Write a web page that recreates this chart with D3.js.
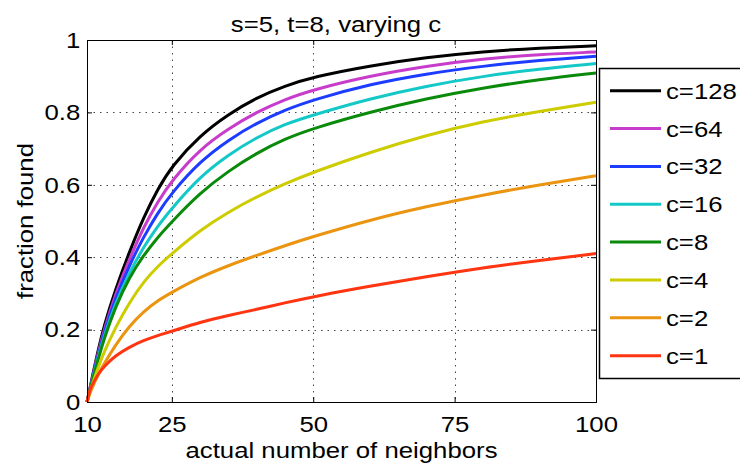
<!DOCTYPE html>
<html lang="en">
<head>
    <meta charset="UTF-8">
    <title>s=5, t=8, varying c</title>
    <script src="https://d3js.org/d3.v7.min.js"></script>
    <style>
        body {
            margin: 0;
            padding: 0;
            background: #fff;
        }
        svg text {
            font-family: "Liberation Sans", Arial, Helvetica, sans-serif;
            fill: #000;
        }
        .grid line {
            stroke: #444;
            stroke-width: 1;
            stroke-dasharray: 1.5, 5;
        }
        .axis path, .axis line {
            stroke: #000;
            stroke-width: 1;
        }
    </style>
</head>
<body>
    <svg id="chart" width="740" height="463"></svg>

    <script>
        const xs = [10, 10.5, 11, 12, 13, 15, 17.5, 20, 22.5, 25, 30, 35, 40, 45, 50, 60, 70, 80, 90, 100];

        // fraction found, one array per c
        const c128 = [0, 0.036, 0.075, 0.145, 0.21, 0.31, 0.415, 0.51, 0.588, 0.652, 0.737, 0.795, 0.841, 0.873, 0.898, 0.929, 0.952, 0.968, 0.978, 0.984];
        const c64  = [0, 0.034, 0.07, 0.138, 0.198, 0.297, 0.395, 0.483, 0.553, 0.612, 0.699, 0.755, 0.801, 0.836, 0.863, 0.901, 0.928, 0.948, 0.96, 0.967];
        const c32  = [0, 0.033, 0.067, 0.132, 0.19, 0.286, 0.378, 0.456, 0.522, 0.578, 0.665, 0.724, 0.771, 0.807, 0.835, 0.878, 0.907, 0.928, 0.944, 0.955];
        const c16  = [0, 0.032, 0.064, 0.126, 0.18, 0.272, 0.358, 0.428, 0.486, 0.535, 0.623, 0.683, 0.731, 0.768, 0.793, 0.838, 0.873, 0.9, 0.92, 0.935];
        const c8   = [0, 0.031, 0.062, 0.12, 0.174, 0.262, 0.345, 0.405, 0.455, 0.498, 0.578, 0.638, 0.688, 0.727, 0.756, 0.801, 0.838, 0.868, 0.891, 0.909];
        const c4   = [0, 0.027, 0.052, 0.097, 0.137, 0.205, 0.275, 0.332, 0.375, 0.41, 0.475, 0.525, 0.567, 0.603, 0.635, 0.69, 0.737, 0.775, 0.803, 0.828];
        const c2   = [0, 0.024, 0.043, 0.077, 0.105, 0.157, 0.21, 0.25, 0.28, 0.303, 0.345, 0.377, 0.405, 0.432, 0.457, 0.503, 0.54, 0.572, 0.6, 0.625];
        const c1   = [0, 0.035, 0.05, 0.078, 0.098, 0.128, 0.152, 0.17, 0.184, 0.195, 0.221, 0.239, 0.256, 0.274, 0.291, 0.32, 0.346, 0.371, 0.391, 0.41];

        const seriesNames = ["c=128", "c=64", "c=32", "c=16", "c=8", "c=4", "c=2", "c=1"];
        const seriesValues = [c128, c64, c32, c16, c8, c4, c2, c1];
        const seriesColors = ["#000000", "#c83ccc", "#1c3cff", "#14c8c8", "#0a8a0a", "#cccc00", "#ea9410", "#ff3410"];

        const xTicks = [10, 25, 50, 75, 100];
        const yTicks = [0, 0.2, 0.4, 0.6, 0.8, 1];
        const xGrid = [25, 50, 75];
        const yGrid = [0.2, 0.4, 0.6, 0.8];

        document.addEventListener("DOMContentLoaded", function() {
            const svg = d3.select("#chart");

            // plot box in pixels
            const left = 87, right = 596, top = 40, bottom = 402;
            const fontSize = 23;
            const stretch = "scale(1.12,1)"; // the original lettering is wider than Arial

            const x = d3.scaleLinear().domain([10, 100]).range([left, right]);
            const y = d3.scaleLinear().domain([0, 1]).range([bottom, top]);

            // dotted grid
            const grid = svg.append("g").attr("class", "grid");
            grid.selectAll(".gx")
                .data(xGrid)
                .join("line")
                .attr("class", "gx")
                .attr("x1", d => Math.round(x(d)) + 0.5)
                .attr("x2", d => Math.round(x(d)) + 0.5)
                .attr("y1", top)
                .attr("y2", bottom);
            grid.selectAll(".gy")
                .data(yGrid)
                .join("line")
                .attr("class", "gy")
                .attr("x1", left)
                .attr("x2", right)
                .attr("y1", d => Math.round(y(d)) + 0.5)
                .attr("y2", d => Math.round(y(d)) + 0.5);

            // curves (smoothed through the read points)
            const line = d3.line()
                .x(d => x(d[0]))
                .y(d => y(d[1]))
                .curve(d3.curveBasis);

            svg.append("g")
                .selectAll("path")
                .data(seriesValues)
                .join("path")
                .attr("fill", "none")
                .attr("stroke", (d, i) => seriesColors[i])
                .attr("stroke-width", 3)
                .attr("stroke-linejoin", "round")
                .attr("d", vals => line(xs.map((v, i) => [v, vals[i]])));

            // axes: ticks point inward, all four sides
            svg.append("g")
                .attr("class", "axis")
                .attr("transform", `translate(0,${bottom})`)
                .call(d3.axisBottom(x).tickValues(xTicks).tickSize(-5).tickPadding(14).tickFormat(d => d));
            svg.append("g")
                .attr("class", "axis")
                .attr("transform", `translate(${left},0)`)
                .call(d3.axisLeft(y).tickValues(yTicks).tickSize(-5).tickPadding(6).tickFormat(d => d));
            svg.append("g")
                .attr("class", "axis")
                .attr("transform", `translate(0,${top})`)
                .call(d3.axisTop(x).tickValues(xTicks).tickSize(-5).tickFormat(""));
            svg.append("g")
                .attr("class", "axis")
                .attr("transform", `translate(${right},0)`)
                .call(d3.axisRight(y).tickValues(yTicks).tickSize(-5).tickFormat(""));

            svg.selectAll(".axis .domain").attr("stroke", "#000");
            svg.selectAll(".axis text")
                .attr("transform", stretch)
                .style("font-size", fontSize + "px")
                .style("font-family", "'Liberation Sans', Arial, sans-serif");

            // title and axis labels
            svg.append("text")
                .attr("transform", `translate(336,32) ${stretch}`)
                .attr("text-anchor", "middle")
                .style("font-size", fontSize + "px")
                .text("s=5, t=8, varying c");

            svg.append("text")
                .attr("transform", `translate(${(left + right) / 2},458) ${stretch}`)
                .attr("text-anchor", "middle")
                .style("font-size", fontSize + "px")
                .text("actual number of neighbors");

            svg.append("text")
                .attr("transform", `translate(33,${(top + bottom) / 2}) rotate(-90) ${stretch}`)
                .attr("text-anchor", "middle")
                .style("font-size", fontSize + "px")
                .text("fraction found");

            // legend box, runs off the right edge
            const legend = svg.append("g");
            legend.append("rect")
                .attr("x", 599.5)
                .attr("y", 68.5)
                .attr("width", 150)
                .attr("height", 310)
                .attr("fill", "#fff")
                .attr("stroke", "#000")
                .attr("stroke-width", 1.5);

            const rowY = i => 90.7 + i * 37.85;
            const rows = legend.selectAll(".row")
                .data(seriesNames)
                .join("g")
                .attr("class", "row")
                .attr("transform", (d, i) => `translate(0,${rowY(i)})`);
            rows.append("line")
                .attr("x1", 610)
                .attr("x2", 661)
                .attr("stroke", (d, i) => seriesColors[i])
                .attr("stroke-width", 3);
            rows.append("text")
                .attr("transform", `translate(666,0) ${stretch}`)
                .attr("dy", "0.35em")
                .style("font-size", fontSize + "px")
                .text(d => d);
        });
    </script>
</body>
</html>
